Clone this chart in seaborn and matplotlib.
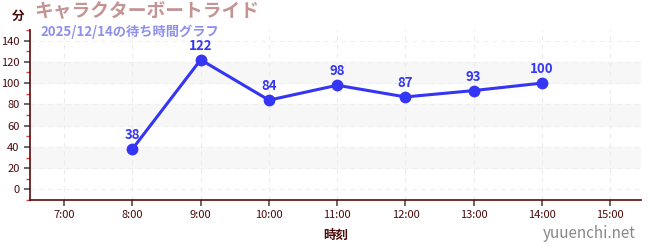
import matplotlib
matplotlib.use("Agg")
import matplotlib.pyplot as plt
import seaborn as sns
import pandas as pd
from matplotlib.ticker import MultipleLocator

hours = [8, 9, 10, 11, 12, 13, 14]
waits = [38, 122, 84, 98, 87, 93, 100]
xtick_hours = [7, 8, 9, 10, 11, 12, 13, 14, 15]
xtick_labels = ["7:00", "8:00", "9:00", "10:00", "11:00", "12:00", "13:00", "14:00", "15:00"]
yticks = [0, 20, 40, 60, 80, 100, 120, 140]
title = "キャラクターボートライド"
subtitle = "2025/12/14の待ち時間グラフ"

sns.set_theme(style="white")
plt.rcParams['font.family'] = ['Noto Sans CJK JP', 'DejaVu Sans']

df = pd.DataFrame({"hour": hours, "wait": waits})

fig = plt.figure(figsize=(6.5, 2.5), dpi=100)
ax = fig.add_axes([30/650, 50/250, 611/650, 170/250])

for lo in [20, 60, 100]:
    ax.axhspan(lo, lo + 20, color="#f7f7f7", zorder=0)

line_color = "#3535f5"
sns.lineplot(data=df, x="hour", y="wait", ax=ax, color=line_color, linewidth=2.2,
             marker="o", markersize=8.5, markeredgewidth=0, zorder=3)
for h, w in zip(hours, waits):
    ax.annotate(str(w), (h, w), xytext=(0, 5), textcoords="offset points",
                ha="center", va="bottom", color=line_color, fontsize=9.5, fontweight="bold")

ax.set_xlim(6.5, 15.45)
ax.set_ylim(-10, 150)
ax.set_xticks(xtick_hours)
ax.set_xticklabels(xtick_labels)
ax.set_yticks(yticks)
ax.yaxis.set_minor_locator(MultipleLocator(10))
ax.tick_params(axis="y", which="minor", length=3, color="#e04040", left=True)
ax.tick_params(axis="both", which="major", length=4, color="#555555", labelsize=8,
               labelcolor="#4a0a0a", left=True, bottom=True)
ax.grid(True, axis="x", linestyle=(0, (4, 4)), color="#ebebeb", linewidth=0.8)
ax.grid(True, axis="y", linestyle=(0, (4, 4)), color="#efefef", linewidth=0.8)
ax.set_axisbelow(True)

for s in ["top", "right"]:
    ax.spines[s].set_visible(False)
for s in ["left", "bottom"]:
    ax.spines[s].set_color("#5a0a0a")
    ax.spines[s].set_linewidth(1.2)

ax.set_xlabel("時刻", fontsize=9, color="#4a0a0a", fontweight="bold", labelpad=6)
ax.set_ylabel("")

fig.text(12/650, 1 - 16/250, "分", fontsize=9, color="#4a0a0a", fontweight="bold",
         ha="left", va="center")
fig.text(34/650, 1 - 12/250, title, fontsize=13.5, color="#c49494", fontweight="bold",
         ha="left", va="center")
fig.text(40/650, 1 - 32/250, subtitle, fontsize=9.5, color="#8f8ff0", fontweight="bold",
         ha="left", va="center")
fig.text(636/650, 1 - 234/250, "yuuenchi.net", fontsize=11, color="#888888",
         ha="right", va="center")

fig.savefig("out.png", dpi=100)
